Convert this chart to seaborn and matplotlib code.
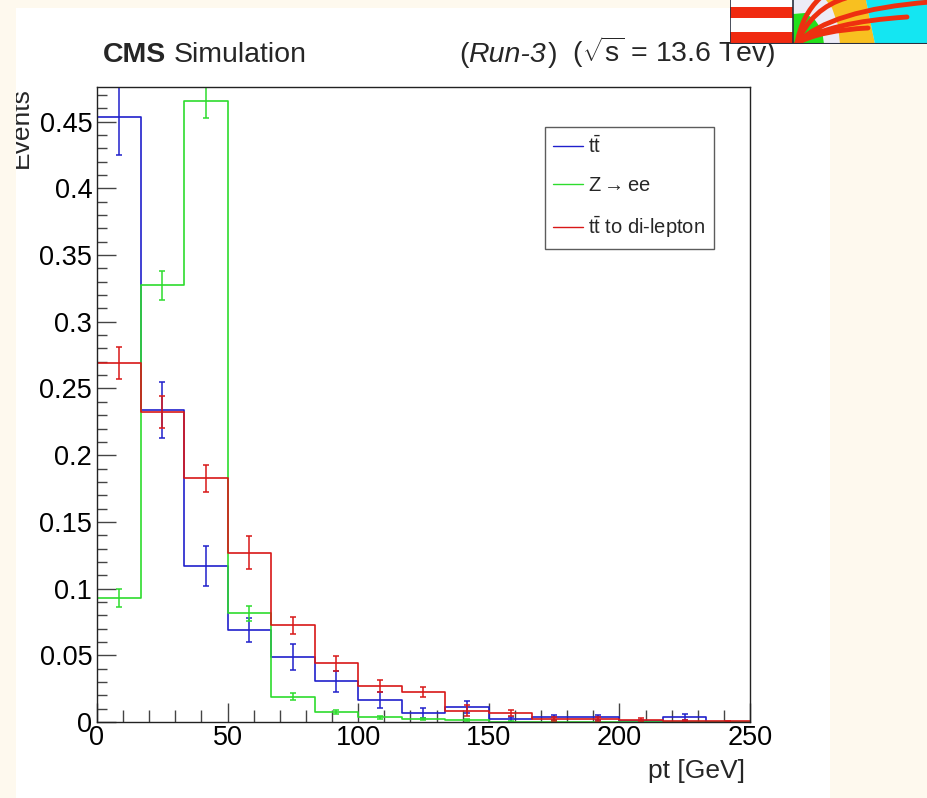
import numpy as np
import pandas as pd
import matplotlib
matplotlib.use("Agg")
import matplotlib.pyplot as plt
import seaborn as sns
from matplotlib.patches import Rectangle, PathPatch, Polygon
from matplotlib.path import Path
from matplotlib.lines import Line2D

# ---------------- data ----------------
bin_edges = [0, 50/3, 100/3, 50, 200/3, 250/3, 100, 350/3, 400/3, 150,
             500/3, 550/3, 200, 650/3, 700/3, 250]

ttbar_vals = [0.4537, 0.2337, 0.1169, 0.0693, 0.0490, 0.0304, 0.0165, 0.0070,
              0.0110, 0.0020, 0.0035, 0.0035, 0.0005, 0.0035, 0.0]
ttbar_errs = [0.029, 0.021, 0.015, 0.009, 0.0098, 0.0078, 0.0057, 0.0038,
              0.0045, 0.002, 0.002, 0.002, 0.0008, 0.0022, 0.0]

zee_vals = [0.0929, 0.3273, 0.4655, 0.0815, 0.0191, 0.0072, 0.0035, 0.0025,
            0.0017, 0.0003, 0.0002, 0.0001, 0.0001, 0.0, 0.0]
zee_errs = [0.0065, 0.011, 0.013, 0.0057, 0.0028, 0.0015, 0.001, 0.0008,
            0.0007, 0.0003, 0.0002, 0.0001, 0.0001, 0.0, 0.0]

dilep_vals = [0.2693, 0.2325, 0.1827, 0.1270, 0.0724, 0.0440, 0.0270, 0.0228,
              0.0085, 0.0070, 0.0025, 0.0025, 0.0018, 0.0006, 0.0004]
dilep_errs = [0.012, 0.012, 0.010, 0.0125, 0.0066, 0.0055, 0.0047, 0.0038,
              0.004, 0.0023, 0.0015, 0.0015, 0.001, 0.0006, 0.0004]

series_labels = [r"t$\bar{\mathrm{t}}$", r"Z$\rightarrow$ee", r"t$\bar{\mathrm{t}}$ to di-lepton"]
series_colors = ["#2020cc", "#2edc2e", "#d81818"]

x_ticks = [0, 50, 100, 150, 200, 250]
x_ticklabels = ["0", "50", "100", "150", "200", "250"]
y_ticks = [0, 0.05, 0.1, 0.15, 0.2, 0.25, 0.3, 0.35, 0.4, 0.45]
y_ticklabels = ["0", "0.05", "0.1", "0.15", "0.2", "0.25", "0.3", "0.35", "0.4", "0.45"]

# ---------------- style ----------------
sns.set_theme(style="ticks")
plt.rcParams["font.family"] = ["Liberation Sans", "DejaVu Sans"]
plt.rcParams["mathtext.fontset"] = "custom"
plt.rcParams["mathtext.rm"] = "Liberation Sans"
plt.rcParams["mathtext.it"] = "Liberation Sans:italic"
plt.rcParams["mathtext.bf"] = "Liberation Sans:bold"

W, H = 928, 798
CREAM = "#fef9ee"
fig = plt.figure(figsize=(W / 100, H / 100), dpi=100)
fig.patch.set_facecolor(CREAM)
# white canvas
fig.patches.append(Rectangle((16 / W, 0), (830 - 16) / W, (H - 8) / H,
                             transform=fig.transFigure, facecolor="white",
                             edgecolor="none", zorder=-2))

ax = fig.add_axes([97 / W, 1 - 722 / H, (750 - 97) / W, (722 - 87) / H])
ax.set_zorder(1)
ax.set_facecolor("white")

edges = np.array(bin_edges)
centers = 0.5 * (edges[:-1] + edges[1:])

all_vals = [ttbar_vals, zee_vals, dilep_vals]
all_errs = [ttbar_errs, zee_errs, dilep_errs]

for vals, errs, col, lab in zip(all_vals, all_errs, series_colors, series_labels):
    df = pd.DataFrame({"pt": centers, "w": vals})
    sns.histplot(data=df, x="pt", weights="w", bins=bin_edges, element="step",
                 fill=False, color=col, linewidth=1.2, ax=ax)
    v = np.array(vals)
    e = np.array(errs)
    m = v > 0
    ax.errorbar(centers[m], v[m], yerr=e[m], fmt="none", ecolor=col,
                elinewidth=1.1, capsize=2.2, capthick=1.1)

ax.set_xlim(0, 250)
ax.set_ylim(0, 0.476)
ax.set_xlabel("")
ax.set_ylabel("")

ax.set_xticks(x_ticks)
ax.set_xticklabels(x_ticklabels)
ax.set_yticks(y_ticks)
ax.set_yticklabels(y_ticklabels)
ax.xaxis.set_minor_locator(matplotlib.ticker.MultipleLocator(10))
ax.yaxis.set_minor_locator(matplotlib.ticker.MultipleLocator(0.01))
ax.tick_params(axis="both", which="both", direction="in", top=False, right=False,
               color="#444444", width=1.0)
ax.tick_params(axis="both", which="major", length=14, labelsize=19.5,
               labelcolor="black")
ax.tick_params(axis="x", which="major", pad=2)
ax.tick_params(axis="y", which="major", pad=3.5)
ax.tick_params(axis="x", which="minor", length=8.5)
ax.tick_params(axis="y", which="minor", length=7)
for sp in ax.spines.values():
    sp.set_color("#222222")
    sp.set_linewidth(1.0)
    sp.set_visible(True)

# legend
handles = [Line2D([0], [0], color=c, lw=1.0) for c in series_colors]
leg = ax.legend(handles, series_labels, loc="upper left",
                bbox_to_anchor=((545 - 97) / 653, (722 - 127) / 635),
                frameon=True, fancybox=False, fontsize=14.5,
                handlelength=1.45, handletextpad=0.28, borderpad=0.42,
                labelspacing=0.95, borderaxespad=0)
leg.get_frame().set_edgecolor("#333333")
leg.get_frame().set_linewidth(1.0)
leg.set_zorder(5)

# titles
fig.text(103 / W, 1 - 62 / H, "CMS", fontsize=20.5, fontweight="bold",
         ha="left", va="baseline")
fig.text(174 / W, 1 - 62 / H, "Simulation", fontsize=20.5,
         ha="left", va="baseline")

renderer = fig.canvas.get_renderer()
pieces = [("(", "normal"), ("Run-3", "italic"), (")", "normal"),
          (r"  ($\sqrt{\mathrm{s}}$ = 13.6 Tev)", "normal")]
xpix = 459
for txt, style in pieces:
    t = fig.text(xpix / W, 1 - 62 / H, txt, fontsize=20.5, fontstyle=style,
                 ha="left", va="baseline")
    bb = t.get_window_extent(renderer=renderer)
    xpix = bb.x1 + (1.5 if style == "italic" else 0)

# axis titles
fig.text(745 / W, 1 - 778 / H, "pt [GeV]", fontsize=19, ha="right", va="baseline")
fig.text(33 / W, 1 - 87 / H, "Events", fontsize=19, rotation=90,
         ha="right", va="top", zorder=1)
# cream strips (left one hides the clipped part of the y title)
fig.patches.append(Rectangle((0, 0), 16 / W, 1, transform=fig.transFigure,
                             facecolor=CREAM, edgecolor="none", zorder=5))
fig.patches.append(Rectangle((830 / W, 0), (W - 830) / W, 1, transform=fig.transFigure,
                             facecolor=CREAM, edgecolor="none", zorder=-1))

# logo (decoration, top right)
lx0, lx1, ly1 = 730, 928, 44
lax = fig.add_axes([lx0 / W, 1 - ly1 / H, (lx1 - lx0) / W, ly1 / H], zorder=20)
lax.set_xlim(lx0, lx1)
lax.set_ylim(ly1, 0)
lax.axis("off")
lax.add_patch(Rectangle((730, 0), 63, 44, facecolor="white", edgecolor="none"))
lax.add_patch(Rectangle((730, 7), 63, 11, facecolor="#f02a10", edgecolor="none"))
lax.add_patch(Rectangle((730, 32), 63, 11, facecolor="#f02a10", edgecolor="none"))
lax.add_patch(Rectangle((793, 0), 135, 44, facecolor="#ecebf6", edgecolor="none"))
lax.add_patch(Polygon([(793, 44), (793, 14), (805, 13), (815, 20), (822, 30), (824, 44)],
                      closed=True, facecolor="#22e01c", edgecolor="none"))
lax.add_patch(Polygon([(840, 44), (838, 25), (832, 8), (826, 0), (866, 0), (870, 20), (875, 44)],
                      closed=True, facecolor="#f8c020", edgecolor="none"))
lax.add_patch(Polygon([(875, 44), (870, 20), (866, 0), (928, 0), (928, 44)],
                      closed=True, facecolor="#14e6f2", edgecolor="none"))
curves = [((797, 43), (802, 15), (820, -2)),
          ((797, 43), (812, 8), (846, -2)),
          ((797, 43), (830, 10), (930, 2)),
          ((797, 43), (830, 22), (907, 17)),
          ((797, 43), (822, 30), (868, 28))]
for p0, p1, p2 in curves:
    path = Path([p0, p1, p2], [Path.MOVETO, Path.CURVE3, Path.CURVE3])
    lax.add_patch(PathPatch(path, facecolor="none", edgecolor="#ee3010",
                            linewidth=3.5, capstyle="round"))
lax.plot([730, 928], [43.5, 43.5], color="#2a3040", lw=1.5)
lax.plot([730.5, 730.5], [0, 44], color="#2a3040", lw=1.2)
lax.plot([793, 793], [0, 44], color="#2a3040", lw=1.2)

fig.savefig("out.png", dpi=100, facecolor=fig.get_facecolor())
